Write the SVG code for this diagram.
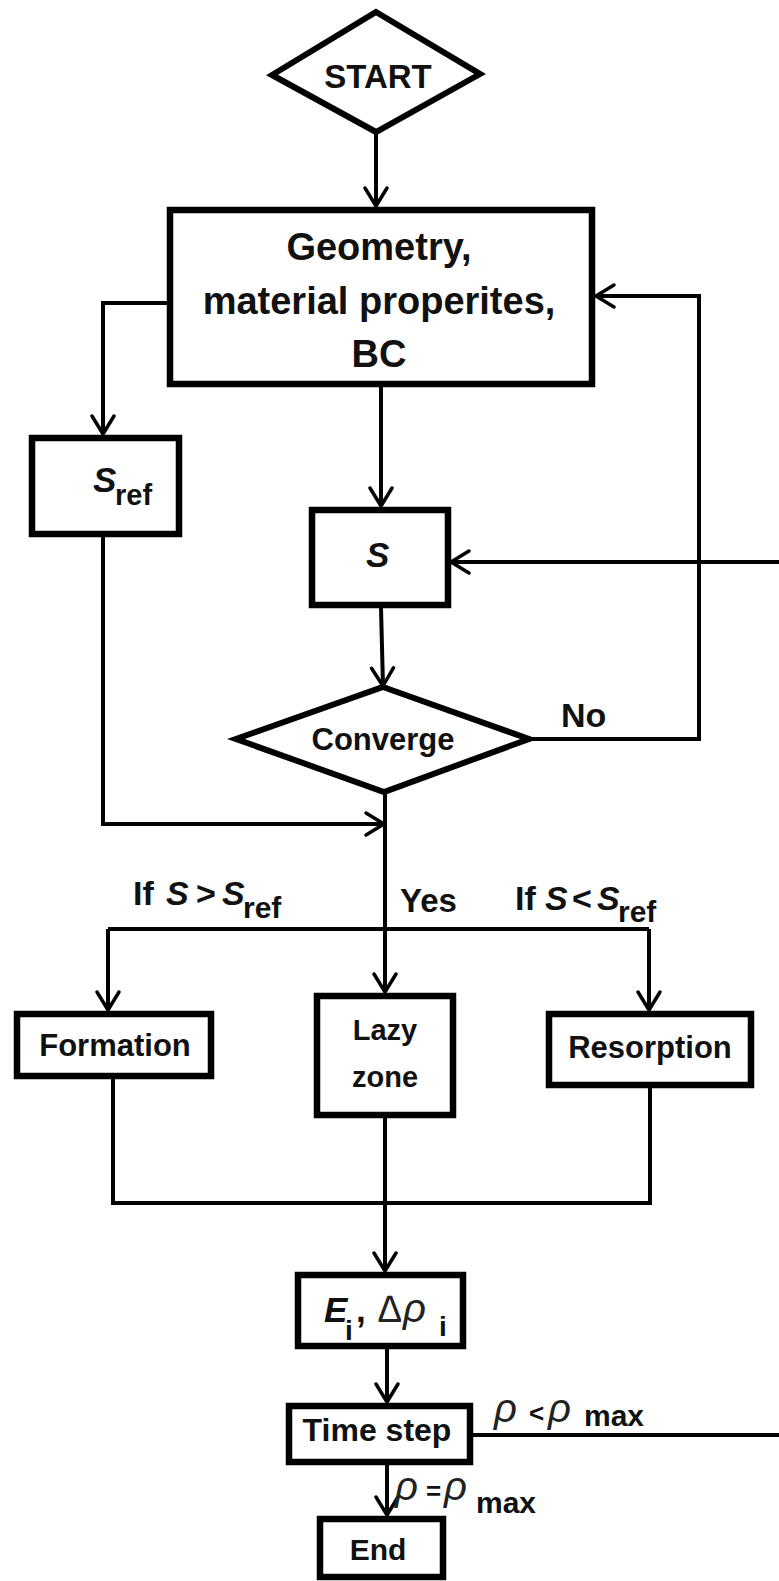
<svg xmlns="http://www.w3.org/2000/svg" width="779" height="1581" viewBox="0 0 779 1581">
<style>
.box{fill:#fff;stroke:#000;stroke-width:6.5}
.dia{fill:#fff;stroke:#000;stroke-width:6;stroke-linejoin:miter}
.ln{fill:none;stroke:#000;stroke-width:4}
.t{font-family:"Liberation Sans",Arial,sans-serif;font-weight:bold;fill:#111}
.it{font-style:italic}
.g{font-family:"Liberation Sans",Arial,sans-serif;font-style:italic;font-weight:normal;fill:#222}
.m{text-anchor:middle}
</style>
<defs>
<marker id="arr" markerUnits="userSpaceOnUse" viewBox="-22 -14 26 28" refX="0" refY="0" markerWidth="26" markerHeight="28" orient="auto">
<path d="M-18,-11 L0,0 L-18,11" fill="none" stroke="#000" stroke-width="3.5" stroke-linejoin="round" stroke-linecap="round"/>
</marker>
</defs>
<rect width="779" height="1581" fill="#fff"/>

<g id="connectors">
<path class="ln" d="M376,132 L376,206" marker-end="url(#arr)"/>
<path class="ln" d="M168,303 L103,303 L103,434" marker-end="url(#arr)"/>
<path class="ln" d="M381,387 L381,506" marker-end="url(#arr)"/>
<path class="ln" d="M381,608 L383,686" marker-end="url(#arr)"/>
<path class="ln" d="M529,739 L699,739 L699,296 L596,296" marker-end="url(#arr)"/>
<path class="ln" d="M779,562 L451,562" marker-end="url(#arr)"/>
<path class="ln" d="M103,537 L103,824 L384,824" marker-end="url(#arr)"/>
<path class="ln" d="M385,792 L385,992" marker-end="url(#arr)"/>
<path class="ln" d="M108,929 L649,929"/>
<path class="ln" d="M108,929 L108,1010" marker-end="url(#arr)"/>
<path class="ln" d="M649,929 L649,1010" marker-end="url(#arr)"/>
<path class="ln" d="M113,1079 L113,1203 L650,1203 L650,1088"/>
<path class="ln" d="M385,1118 L385,1271" marker-end="url(#arr)"/>
<path class="ln" d="M387,1349 L387,1402" marker-end="url(#arr)"/>
<path class="ln" d="M473,1435 L779,1435"/>
<path class="ln" d="M387,1465 L387,1515" marker-end="url(#arr)"/>
</g>

<g id="start">
<polygon class="dia" points="376,12 480,74 376,132 272,75"/>
<text class="t m" x="378" y="88" font-size="33">START</text>
</g>

<g id="input">
<rect class="box" x="170" y="210" width="422" height="174"/>
<text class="t m" x="379" y="260" font-size="38">Geometry,</text>
<text class="t m" x="379" y="314" font-size="38">material properites,</text>
<text class="t m" x="379" y="367" font-size="38">BC</text>
</g>

<g id="sref">
<rect class="box" x="32" y="438" width="147" height="96"/>
<text class="t it" x="93" y="492" font-size="35">S</text>
<text class="t" x="115" y="505" font-size="29">ref</text>
</g>

<g id="s">
<rect class="box" x="312" y="510" width="136" height="95"/>
<text class="t it" x="366" y="567" font-size="35">S</text>
</g>

<g id="converge">
<polygon class="dia" points="383,687 529,739 384,792 236,739"/>
<text class="t m" x="383" y="750" font-size="31">Converge</text>
</g>

<g id="labels">
<text class="t" x="561" y="727" font-size="34">No</text>
<text class="t" x="400" y="912" font-size="33">Yes</text>
<text class="t" font-size="34"><tspan x="133" y="905">If</tspan><tspan x="166" y="905" font-style="italic">S</tspan><tspan x="196" y="905">&gt;</tspan><tspan x="222" y="905" font-style="italic">S</tspan><tspan x="243" y="918" font-size="30">ref</tspan></text>
<text class="t" font-size="34"><tspan x="515" y="910">If</tspan><tspan x="545" y="910" font-style="italic">S</tspan><tspan x="572" y="910">&lt;</tspan><tspan x="597" y="910" font-style="italic">S</tspan><tspan x="618" y="922" font-size="30">ref</tspan></text>
<text class="g" x="494" y="1422" font-size="40">ρ</text>
<text class="t" x="529" y="1422" font-size="26">&lt;</text>
<text class="g" x="548" y="1422" font-size="40">ρ</text>
<text class="t" x="584" y="1426" font-size="30">max</text>
<text class="g" x="395" y="1500" font-size="40">ρ</text>
<text class="t" x="426" y="1500" font-size="26">=</text>
<text class="g" x="444" y="1500" font-size="40">ρ</text>
<text class="t" x="476" y="1513" font-size="30">max</text>
</g>

<g id="formation">
<rect class="box" x="17" y="1014" width="194" height="62"/>
<text class="t m" x="115" y="1056" font-size="31">Formation</text>
</g>

<g id="lazy">
<rect class="box" x="317" y="996" width="136" height="119"/>
<text class="t m" x="385" y="1040" font-size="29">Lazy</text>
<text class="t m" x="385" y="1087" font-size="29">zone</text>
</g>

<g id="resorption">
<rect class="box" x="549" y="1014" width="202" height="71"/>
<text class="t m" x="650" y="1058" font-size="31">Resorption</text>
</g>

<g id="update">
<rect class="box" x="298" y="1275" width="165" height="71"/>
<text class="t it" x="324" y="1322" font-size="35">E</text>
<text class="t" x="345" y="1340" font-size="28">i</text>
<text class="t" x="356" y="1322" font-size="35">,</text>
<text class="g" x="378" y="1322" font-size="38" font-style="normal">∆</text>
<text class="g" x="403" y="1322" font-size="40">ρ</text>
<text class="t" x="439" y="1336" font-size="28">i</text>
</g>

<g id="timestep">
<rect class="box" x="289" y="1406" width="181" height="56"/>
<text class="t m" x="377" y="1441" font-size="32">Time step</text>
</g>

<g id="end">
<rect class="box" x="320" y="1519" width="123" height="58"/>
<text class="t m" x="378" y="1560" font-size="30">End</text>
</g>
</svg>
